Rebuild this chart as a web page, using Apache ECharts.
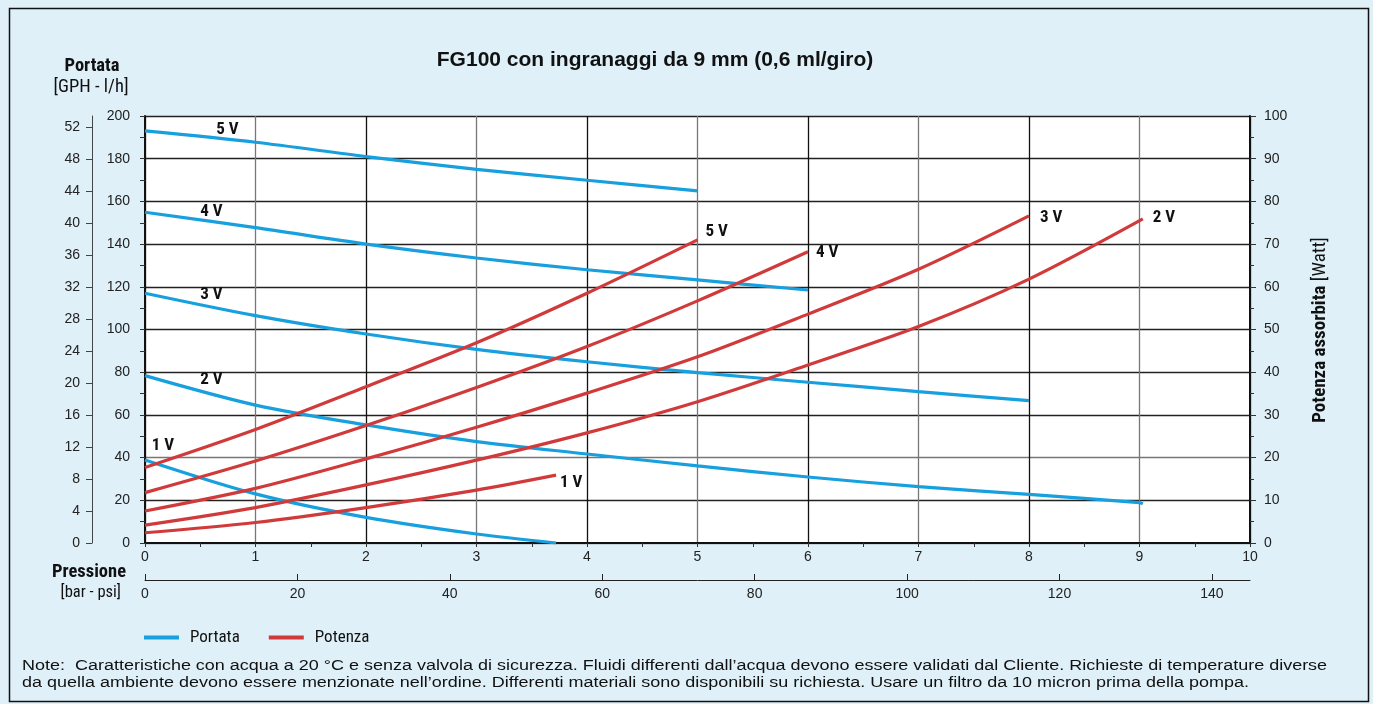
<!DOCTYPE html>
<html>
<head>
<meta charset="utf-8">
<script src="https://cdn.jsdelivr.net/npm/echarts@6/dist/echarts.min.js"></script>
<style>
  html, body { margin:0; padding:0; background:#ffffff; }
  #chart { position:absolute; left:0; top:0; width:1373px; height:704px; }
</style>
</head>
<body>
<div id="chart"></div>
<script>
// ---------------- DATA ----------------
const titleText = 'FG100 con ingranaggi da 9 mm (0,6 ml/giro)';
const voltages = ['1 V', '2 V', '3 V', '4 V', '5 V'];

// Portata [l/h] vs Pressione [bar]
const flow1V = [[0, 38.9], [1, 23], [2, 12], [3, 4.2], [3.72, 0]];
const flow2V = [[0, 78.4], [1, 64.6], [2, 55.3], [3, 47.5], [4, 41.7], [5, 36.1], [6, 30.9], [7, 26.4], [8, 22.8], [9, 18.9], [9.03, 18.3]];
const flow3V = [[0, 117], [1, 106.5], [2, 97.9], [3, 90.7], [4, 84.9], [5, 79.8], [6, 75.3], [7, 70.9], [8, 66.7]];
const flow4V = [[0, 154.9], [1, 147.7], [2, 140], [3, 133.5], [4, 128], [5, 123.2], [6, 118.5]];
const flow5V = [[0, 193], [1, 187.7], [2, 181], [3, 175], [4, 169.9], [5, 164.9]];

// Potenza assorbita [Watt] vs Pressione [bar]
const power1V = [[0, 2.4], [1, 4.8], [2, 8.3], [3, 12.4], [3.72, 15.9]];
const power2V = [[0, 4.2], [1, 8.3], [2, 13.6], [3, 19.4], [4, 25.8], [5, 33.1], [6, 41.7], [7, 50.7], [8, 61.8], [9.03, 75.9]];
const power3V = [[0, 7.5], [1, 12.8], [2, 19.7], [3, 27.1], [4, 35.1], [5, 43.6], [6, 53.6], [7, 64.1], [8, 76.6]];
const power4V = [[0, 11.8], [1, 19.2], [2, 27.5], [3, 36.4], [4, 46], [5, 56.7], [6, 68.2]];
const power5V = [[0, 17.7], [1, 26.6], [2, 36.6], [3, 46.9], [4, 58.5], [5, 71]];

// Axis ranges / ticks: min, max, interval
const barTicks = [0, 10, 1];
const psiTicks = [0, 145, 20];
const lhTicks = [0, 200, 20];
const gphTicks = [0, 53.4, 4];
const wattTicks = [0, 100, 10];

const legendNames = ['Portata', 'Potenza'];
const noteLines = [
  'Note:  Caratteristiche con acqua a 20 °C e senza valvola di sicurezza. Fluidi differenti dall\u2019acqua devono essere validati dal Cliente. Richieste di temperature diverse',
  'da quella ambiente devono essere menzionate nell\u2019ordine. Differenti materiali sono disponibili su richiesta. Usare un filtro da 10 micron prima della pompa.'
];

// ---------------- STYLE ----------------
const BLUE = '#17a0dd';
const RED = '#d13a3a';
const FONT = 'Liberation Sans Narrow, Roboto Condensed, Arial Narrow, Liberation Sans, sans-serif';
const FONT_N = 'Liberation Sans, Arial, sans-serif';
const labelStyle = { fontFamily: FONT, fontWeight: 'bold', fontSize: 17, color: '#111' };

const flows = [flow1V, flow2V, flow3V, flow4V, flow5V];
const powers = [power1V, power2V, power3V, power4V, power5V];
// label anchor index and pixel offset for flow curves (style only)
const flowLabelCfg = [
  { idx: 0, offset: [18, -14] },
  { idx: 1, offset: [-44, -25] },
  { idx: 1, offset: [-44, -21] },
  { idx: 1, offset: [-44, -16] },
  { idx: 1, offset: [-28, -13] }
];
const powerLabelOffset = [[4, 8], [10, -1], [11, 2], [8, 1], [8, -8]];

const series = [];
flows.forEach((d, i) => {
  const cfg = flowLabelCfg[i];
  series.push({
    name: legendNames[0],
    type: 'line',
    xAxisIndex: 0, yAxisIndex: 0,
    smooth: 0.3,
    symbol: 'none', showSymbol: false,
    lineStyle: { color: BLUE, width: 3.2 },
    itemStyle: { color: BLUE },
    data: d,
    markPoint: {
      silent: true, animation: false,
      symbol: 'circle', symbolSize: 0,
      data: [{ coord: d[cfg.idx], value: voltages[i] }],
      label: Object.assign({ show: true, position: 'inside', formatter: voltages[i], offset: cfg.offset }, labelStyle)
    },
    z: 3, silent: true
  });
});
powers.forEach((d, i) => {
  series.push({
    name: legendNames[1],
    type: 'line',
    xAxisIndex: 0, yAxisIndex: 1,
    smooth: 0.3,
    symbol: 'none', showSymbol: false,
    lineStyle: { color: RED, width: 3.2 },
    itemStyle: { color: RED },
    endLabel: Object.assign({ show: true, formatter: voltages[i], offset: powerLabelOffset[i], distance: 0, align: 'left', verticalAlign: 'middle' }, labelStyle),
    data: d,
    z: 4, silent: true
  });
});
// empty series on the psi grid
series.push({ type: 'line', xAxisIndex: 1, yAxisIndex: 3, data: [], silent: true });

const axisText = { fontFamily: FONT_N, fontSize: 14, color: '#222' };

const option = {
  backgroundColor: '#dff0f8',
  animation: false,
  grid: [
    { left: 145, right: 123, top: 116, bottom: 161, backgroundColor: '#ffffff', show: true, borderWidth: 0, containLabel: false },
    { left: 145, right: 123, top: 570, height: 10, show: false }
  ],
  title: { text: titleText, left: 650, top: 45, textAlign: 'center',
    textStyle: { fontFamily: FONT_N, fontWeight: 'bold', fontSize: 21, color: '#111' } },
  legend: {
    data: legendNames, left: 139, top: 624, icon: 'rect', itemWidth: 35, itemHeight: 4, itemGap: 29,
    textStyle: { fontFamily: FONT, fontSize: 17, color: '#111', padding: [0, 0, 0, 6] }, selectedMode: false
  },
  xAxis: [
    {
      type: 'value', gridIndex: 0, min: barTicks[0], max: barTicks[1], interval: barTicks[2],
      axisLine: { show: true, onZero: false, lineStyle: { color: '#111', width: 2 } },
      axisTick: { show: true, length: 4, lineStyle: { color: '#333' } },
      minorTick: { show: true, splitNumber: 2, length: 4, lineStyle: { color: '#333' } },
      axisLabel: Object.assign({ margin: 7 }, axisText),
      splitLine: { show: true, lineStyle: { color: ['#111', '#777'], width: 1.3 } }
    },
    {
      type: 'value', gridIndex: 1, min: psiTicks[0], max: psiTicks[1], interval: psiTicks[2], position: 'bottom',
      axisLine: { show: true, onZero: false, lineStyle: { color: '#222', width: 1 } },
      axisTick: { show: true, inside: true, length: 6, lineStyle: { color: '#222' } },
      axisLabel: Object.assign({ margin: 7, showMaxLabel: false }, axisText),
      splitLine: { show: false }
    }
  ],
  yAxis: [
    {
      type: 'value', gridIndex: 0, position: 'left', min: lhTicks[0], max: lhTicks[1], interval: lhTicks[2],
      axisLine: { show: true, onZero: false, lineStyle: { color: '#111', width: 2 } },
      axisTick: { show: true, length: 5, lineStyle: { color: '#333' } },
      minorTick: { show: true, splitNumber: 2, length: 5, lineStyle: { color: '#333' } },
      axisLabel: Object.assign({ margin: 15 }, axisText),
      splitLine: { show: true, lineStyle: { color: ['#777', '#222', '#777', '#222', '#222', '#222', '#222', '#222', '#222', '#222', '#222'], width: 1.3 } }
    },
    {
      type: 'value', gridIndex: 0, position: 'right', min: wattTicks[0], max: wattTicks[1], interval: wattTicks[2],
      axisLine: { show: true, onZero: false, lineStyle: { color: '#111', width: 2 } },
      axisTick: { show: true, length: 6, lineStyle: { color: '#333' } },
      minorTick: { show: true, splitNumber: 2, length: 4, lineStyle: { color: '#333' } },
      axisLabel: Object.assign({ margin: 14 }, axisText),
      splitLine: { show: false }
    },
    {
      type: 'value', gridIndex: 0, position: 'left', offset: 53, min: gphTicks[0], max: gphTicks[1], interval: gphTicks[2],
      axisLine: { show: true, onZero: false, lineStyle: { color: '#444', width: 1 } },
      axisTick: { show: true, length: 6, lineStyle: { color: '#444' } },
      axisLabel: Object.assign({ margin: 12, showMaxLabel: false }, axisText),
      splitLine: { show: false }
    },
    { type: 'value', gridIndex: 1, show: false }
  ],
  graphic: [
    { type: 'rect', left: 7, top: 6, shape: { width: 1359, height: 693 }, style: { fill: 'none', stroke: '#111', lineWidth: 1.5 }, silent: true, z: 100 },
    { type: 'text', x: 92, y: 66, style: { text: 'Portata', font: 'bold 18.5px ' + FONT, fill: '#111', textAlign: 'center', textVerticalAlign: 'middle' } },
    { type: 'text', x: 91, y: 87, style: { text: '[GPH - l/h]', font: '18.5px ' + FONT, fill: '#111', textAlign: 'center', textVerticalAlign: 'middle' } },
    { type: 'text', x: 126, y: 572, style: { text: 'Pressione', font: 'bold 18.5px ' + FONT, fill: '#111', textAlign: 'right', textVerticalAlign: 'middle' } },
    { type: 'text', x: 121, y: 593, style: { text: '[bar - psi]', font: '16.5px ' + FONT, fill: '#111', textAlign: 'right', textVerticalAlign: 'middle' } },
    { type: 'text', x: 1320, y: 330, rotation: Math.PI / 2, style: { text: '{b|Potenza assorbita} [Watt]', rich: { b: { fontWeight: 'bold', fontFamily: FONT, fontSize: 19, fill: '#111' } }, font: '19px ' + FONT, fill: '#111', textAlign: 'center', textVerticalAlign: 'middle' } },
    { type: 'text', x: 22, y: 666, scaleX: 1.16, style: { text: noteLines[0], font: '15.5px ' + FONT_N, fill: '#111', textAlign: 'left', textVerticalAlign: 'middle' } },
    { type: 'text', x: 22, y: 683, scaleX: 1.16, style: { text: noteLines[1], font: '15.5px ' + FONT_N, fill: '#111', textAlign: 'left', textVerticalAlign: 'middle' } }
  ],
  series: series
};

const chart = echarts.init(document.getElementById('chart'), null, { renderer: 'canvas' });
chart.setOption(option);
</script>
</body>
</html>
